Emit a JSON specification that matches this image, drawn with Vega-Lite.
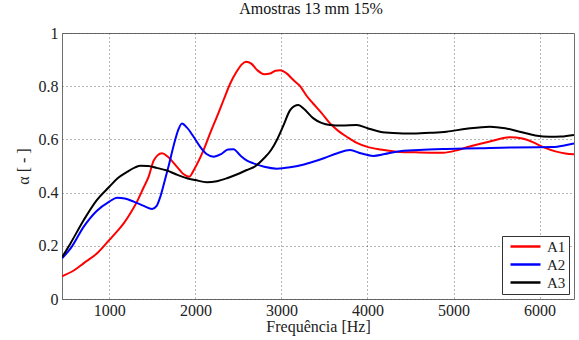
{
  "$schema": "https://vega.github.io/schema/vega-lite/v6.json",
  "width": 512,
  "height": 266,
  "autosize": {"type": "none"},
  "padding": {"left": 62, "top": 33, "right": 5, "bottom": 41},
  "background": "white",
  "title": {"text": "Amostras 13 mm 15%", "font": "Liberation Serif", "fontSize": 16, "fontWeight": "normal", "color": "#111", "offset": 8, "anchor": "middle", "dx": -7},
  "config": {
    "view": {"stroke": "#6e6e6e", "strokeWidth": 1},
    "axis": {"labelFont": "Liberation Serif", "labelFontSize": 16, "labelColor": "#222", "titleFont": "Liberation Serif", "titleFontSize": 16, "titleFontWeight": "normal", "titleColor": "#222", "grid": true, "gridColor": "#444", "gridDash": [1, 3], "gridWidth": 0.8, "ticks": false, "domain": false}
  },
  "datasets": {
    "curves": [
      {"f": 450, "a": 0.085, "s": "A1"}, {"f": 600, "a": 0.11, "s": "A1"}, {"f": 700, "a": 0.134, "s": "A1"}, {"f": 858, "a": 0.172, "s": "A1"}, {"f": 1000, "a": 0.222, "s": "A1"}, {"f": 1100, "a": 0.258, "s": "A1"}, {"f": 1167, "a": 0.284, "s": "A1"}, {"f": 1250, "a": 0.325, "s": "A1"}, {"f": 1322, "a": 0.366, "s": "A1"}, {"f": 1400, "a": 0.42, "s": "A1"}, {"f": 1457, "a": 0.46, "s": "A1"}, {"f": 1515, "a": 0.52, "s": "A1"}, {"f": 1560, "a": 0.54, "s": "A1"}, {"f": 1612, "a": 0.548, "s": "A1"}, {"f": 1680, "a": 0.535, "s": "A1"}, {"f": 1786, "a": 0.497, "s": "A1"}, {"f": 1860, "a": 0.47, "s": "A1"}, {"f": 1929, "a": 0.46, "s": "A1"}, {"f": 1990, "a": 0.49, "s": "A1"}, {"f": 2095, "a": 0.56, "s": "A1"}, {"f": 2180, "a": 0.63, "s": "A1"}, {"f": 2250, "a": 0.685, "s": "A1"}, {"f": 2330, "a": 0.75, "s": "A1"}, {"f": 2405, "a": 0.81, "s": "A1"}, {"f": 2480, "a": 0.855, "s": "A1"}, {"f": 2540, "a": 0.882, "s": "A1"}, {"f": 2590, "a": 0.892, "s": "A1"}, {"f": 2650, "a": 0.885, "s": "A1"}, {"f": 2720, "a": 0.86, "s": "A1"}, {"f": 2800, "a": 0.845, "s": "A1"}, {"f": 2870, "a": 0.848, "s": "A1"}, {"f": 2930, "a": 0.858, "s": "A1"}, {"f": 2985, "a": 0.86, "s": "A1"}, {"f": 3060, "a": 0.848, "s": "A1"}, {"f": 3139, "a": 0.823, "s": "A1"}, {"f": 3217, "a": 0.8, "s": "A1"}, {"f": 3290, "a": 0.765, "s": "A1"}, {"f": 3368, "a": 0.735, "s": "A1"}, {"f": 3465, "a": 0.7, "s": "A1"}, {"f": 3565, "a": 0.66, "s": "A1"}, {"f": 3660, "a": 0.632, "s": "A1"}, {"f": 3759, "a": 0.61, "s": "A1"}, {"f": 3870, "a": 0.588, "s": "A1"}, {"f": 3991, "a": 0.573, "s": "A1"}, {"f": 4150, "a": 0.562, "s": "A1"}, {"f": 4339, "a": 0.554, "s": "A1"}, {"f": 4600, "a": 0.551, "s": "A1"}, {"f": 4879, "a": 0.55, "s": "A1"}, {"f": 5050, "a": 0.56, "s": "A1"}, {"f": 5189, "a": 0.573, "s": "A1"}, {"f": 5400, "a": 0.59, "s": "A1"}, {"f": 5653, "a": 0.608, "s": "A1"}, {"f": 5800, "a": 0.603, "s": "A1"}, {"f": 5920, "a": 0.59, "s": "A1"}, {"f": 6050, "a": 0.57, "s": "A1"}, {"f": 6195, "a": 0.554, "s": "A1"}, {"f": 6300, "a": 0.547, "s": "A1"}, {"f": 6400, "a": 0.544, "s": "A1"},
      {"f": 450, "a": 0.153, "s": "A2"}, {"f": 550, "a": 0.19, "s": "A2"}, {"f": 703, "a": 0.272, "s": "A2"}, {"f": 850, "a": 0.33, "s": "A2"}, {"f": 1000, "a": 0.366, "s": "A2"}, {"f": 1090, "a": 0.381, "s": "A2"}, {"f": 1180, "a": 0.378, "s": "A2"}, {"f": 1283, "a": 0.366, "s": "A2"}, {"f": 1400, "a": 0.35, "s": "A2"}, {"f": 1496, "a": 0.338, "s": "A2"}, {"f": 1550, "a": 0.35, "s": "A2"}, {"f": 1593, "a": 0.385, "s": "A2"}, {"f": 1640, "a": 0.44, "s": "A2"}, {"f": 1689, "a": 0.5, "s": "A2"}, {"f": 1750, "a": 0.58, "s": "A2"}, {"f": 1800, "a": 0.635, "s": "A2"}, {"f": 1844, "a": 0.66, "s": "A2"}, {"f": 1900, "a": 0.645, "s": "A2"}, {"f": 1979, "a": 0.61, "s": "A2"}, {"f": 2060, "a": 0.57, "s": "A2"}, {"f": 2130, "a": 0.545, "s": "A2"}, {"f": 2211, "a": 0.535, "s": "A2"}, {"f": 2300, "a": 0.545, "s": "A2"}, {"f": 2380, "a": 0.562, "s": "A2"}, {"f": 2443, "a": 0.563, "s": "A2"}, {"f": 2520, "a": 0.54, "s": "A2"}, {"f": 2600, "a": 0.52, "s": "A2"}, {"f": 2675, "a": 0.51, "s": "A2"}, {"f": 2800, "a": 0.497, "s": "A2"}, {"f": 2947, "a": 0.49, "s": "A2"}, {"f": 3100, "a": 0.495, "s": "A2"}, {"f": 3250, "a": 0.505, "s": "A2"}, {"f": 3368, "a": 0.516, "s": "A2"}, {"f": 3500, "a": 0.53, "s": "A2"}, {"f": 3650, "a": 0.548, "s": "A2"}, {"f": 3797, "a": 0.56, "s": "A2"}, {"f": 3920, "a": 0.548, "s": "A2"}, {"f": 4067, "a": 0.538, "s": "A2"}, {"f": 4200, "a": 0.545, "s": "A2"}, {"f": 4339, "a": 0.554, "s": "A2"}, {"f": 4600, "a": 0.56, "s": "A2"}, {"f": 4918, "a": 0.564, "s": "A2"}, {"f": 5300, "a": 0.567, "s": "A2"}, {"f": 5691, "a": 0.57, "s": "A2"}, {"f": 6155, "a": 0.571, "s": "A2"}, {"f": 6300, "a": 0.578, "s": "A2"}, {"f": 6400, "a": 0.585, "s": "A2"},
      {"f": 450, "a": 0.157, "s": "A3"}, {"f": 550, "a": 0.21, "s": "A3"}, {"f": 703, "a": 0.297, "s": "A3"}, {"f": 850, "a": 0.37, "s": "A3"}, {"f": 1000, "a": 0.422, "s": "A3"}, {"f": 1100, "a": 0.455, "s": "A3"}, {"f": 1206, "a": 0.478, "s": "A3"}, {"f": 1300, "a": 0.495, "s": "A3"}, {"f": 1361, "a": 0.501, "s": "A3"}, {"f": 1450, "a": 0.5, "s": "A3"}, {"f": 1550, "a": 0.493, "s": "A3"}, {"f": 1670, "a": 0.483, "s": "A3"}, {"f": 1780, "a": 0.468, "s": "A3"}, {"f": 1902, "a": 0.454, "s": "A3"}, {"f": 2000, "a": 0.447, "s": "A3"}, {"f": 2134, "a": 0.439, "s": "A3"}, {"f": 2250, "a": 0.443, "s": "A3"}, {"f": 2366, "a": 0.454, "s": "A3"}, {"f": 2480, "a": 0.468, "s": "A3"}, {"f": 2598, "a": 0.485, "s": "A3"}, {"f": 2700, "a": 0.5, "s": "A3"}, {"f": 2800, "a": 0.53, "s": "A3"}, {"f": 2880, "a": 0.56, "s": "A3"}, {"f": 2947, "a": 0.598, "s": "A3"}, {"f": 3020, "a": 0.65, "s": "A3"}, {"f": 3101, "a": 0.71, "s": "A3"}, {"f": 3150, "a": 0.725, "s": "A3"}, {"f": 3197, "a": 0.729, "s": "A3"}, {"f": 3260, "a": 0.715, "s": "A3"}, {"f": 3368, "a": 0.68, "s": "A3"}, {"f": 3465, "a": 0.662, "s": "A3"}, {"f": 3565, "a": 0.654, "s": "A3"}, {"f": 3700, "a": 0.652, "s": "A3"}, {"f": 3875, "a": 0.654, "s": "A3"}, {"f": 4000, "a": 0.642, "s": "A3"}, {"f": 4145, "a": 0.629, "s": "A3"}, {"f": 4300, "a": 0.624, "s": "A3"}, {"f": 4532, "a": 0.622, "s": "A3"}, {"f": 4750, "a": 0.625, "s": "A3"}, {"f": 4918, "a": 0.629, "s": "A3"}, {"f": 5150, "a": 0.64, "s": "A3"}, {"f": 5421, "a": 0.648, "s": "A3"}, {"f": 5600, "a": 0.642, "s": "A3"}, {"f": 5769, "a": 0.629, "s": "A3"}, {"f": 5950, "a": 0.615, "s": "A3"}, {"f": 6117, "a": 0.61, "s": "A3"}, {"f": 6250, "a": 0.611, "s": "A3"}, {"f": 6400, "a": 0.617, "s": "A3"}
    ]
  },
  "data": {"name": "curves"},
  "mark": {"type": "line", "interpolate": "monotone", "strokeWidth": 2, "clip": true},
  "encoding": {
    "x": {"field": "f", "type": "quantitative", "title": "Frequência [Hz]", "scale": {"domain": [450, 6400], "nice": false, "zero": false}, "axis": {"values": [1000, 2000, 3000, 4000, 5000, 6000], "format": "d", "labelPadding": 3, "titlePadding": 0}},
    "y": {"field": "a", "type": "quantitative", "title": "α [ - ]", "scale": {"domain": [0, 1], "nice": false}, "axis": {"values": [0, 0.2, 0.4, 0.6, 0.8, 1], "format": "~g", "labelPadding": 4, "titlePadding": 7}},
    "color": {"field": "s", "type": "nominal", "title": null, "scale": {"domain": ["A1", "A2", "A3"], "range": ["#ff0000", "#0000ff", "#000000"]},
      "legend": {"orient": "bottom-right", "offset": 5, "symbolType": "M-3,0H3", "symbolSize": 100, "symbolStrokeWidth": 2.5, "symbolFillColor": "transparent", "labelFont": "Liberation Serif", "labelFontSize": 15, "labelColor": "#222", "strokeColor": "#333", "fillColor": "white", "padding": 3, "rowPadding": 2, "labelOffset": 14, "symbolOffset": 13}}
  }
}
